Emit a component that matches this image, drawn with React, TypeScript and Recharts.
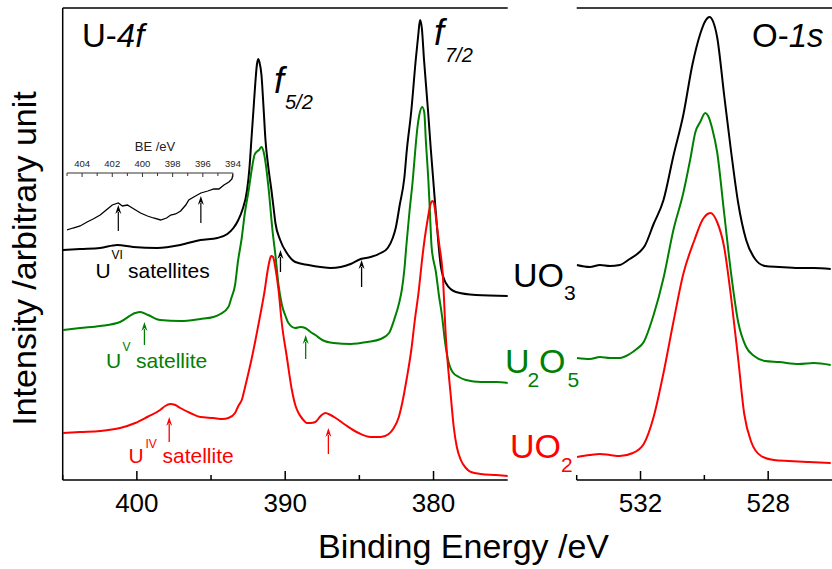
import { LineChart, Line, XAxis, YAxis, ReferenceLine } from "recharts";

const FONT = "'Liberation Sans', Arial, Helvetica, sans-serif";
const GREEN = "#008000";
const RED = "#ff0000";
const W = 832;
const H = 569;

// ---- U-4f panel: binding energy (eV) and stacked intensity (arb. units) ----
const u4fBeUO3 = [
  404.98, 403.83, 402.48, 401.33, 400.25, 398.63, 397.07, 395.72, 394.57, 393.9,
  393.49, 393.16, 392.89, 392.57, 392.41, 392.28, 392.14, 392.01, 391.91, 391.82,
  391.74, 391.6, 391.47, 391.33, 391.13, 390.93, 390.79, 390.66, 390.34, 389.89,
  389.32, 388.43, 387.61, 386.94, 386.26, 385.59, 384.91, 384.24, 383.56, 383.09,
  382.75, 382.55, 382.28, 381.97, 381.8, 381.5, 381.2, 381.03, 380.91, 380.79,
  380.64, 380.37, 380.18, 380.03, 379.76, 379.51, 379.17, 378.49, 377.14, 374.98,
];
const u4fUO3 = [
  230, 231, 232, 235, 233, 232, 235, 240, 242, 246,
  252, 260, 270, 290, 312, 340, 370, 398, 415, 421,
  418, 405, 375, 340, 312, 290, 273, 257, 240, 227,
  218, 215, 213, 212, 213, 216, 221, 223, 227, 232,
  242, 252, 275, 302, 330, 369, 420, 445, 460, 452,
  420, 369, 330, 302, 252, 214, 197, 188, 185, 184,
];

const u4fBeU2O5 = [
  404.98, 403.83, 402.48, 401.13, 400.11, 399.78, 399.24, 398.43, 397.07, 395.72,
  394.84, 394.37, 393.83, 393.63, 393.38, 393.19, 392.93, 392.72, 392.46, 392.24,
  392.07, 391.94, 391.77, 391.6, 391.47, 391.33, 391.11, 390.86, 390.66, 390.45,
  390.22, 389.98, 389.78, 389.32, 388.97, 388.65, 388.29, 387.97, 387.5, 386.74,
  385.59, 384.46, 383.56, 383.0, 382.66, 382.32, 382.14, 381.97, 381.84, 381.63,
  381.4, 381.23, 381.09, 380.96, 380.76, 380.62, 380.52, 380.35, 380.25, 380.13,
  379.84, 379.64, 379.41, 379.24, 379.05, 378.72, 378.29, 377.82, 376.8, 375.79, 374.98,
];
const u4fU2O5 = [
  150, 152, 154, 158, 167, 168, 165, 160, 159, 161,
  163, 166, 173, 182, 195, 218, 242, 267, 290, 312,
  325, 328, 330, 333, 329, 318, 290, 250, 225, 195,
  175, 164, 157, 152, 153, 152, 148, 145, 140, 137,
  136, 138, 141, 147, 160, 177, 190, 210, 233, 267,
  300, 330, 352, 365, 373, 367, 340, 300, 270, 233,
  208, 185, 162, 140, 122, 108, 103, 100, 98, 98, 97,
];

const u4fBeUO2 = [
  404.98, 403.83, 402.48, 401.13, 400.11, 399.3, 398.43, 398.09, 397.75, 397.41,
  397.07, 396.4, 395.72, 394.84, 394.23, 393.83, 393.38, 393.16, 392.93, 392.72,
  392.48, 392.28, 392.03, 391.81, 391.58, 391.4, 391.2, 391.06, 390.95, 390.82,
  390.66, 390.45, 390.23, 389.89, 389.55, 389.3, 389.1, 388.83, 388.54, 388.29,
  387.97, 387.61, 387.3, 386.94, 386.6, 385.93, 385.05, 384.24, 383.56, 383.02,
  382.68, 382.34, 382.07, 381.8, 381.5, 381.26, 380.99, 380.79, 380.59, 380.38,
  380.22, 380.07, 379.95, 379.78, 379.61, 379.39, 379.17, 378.83, 378.63, 378.43,
  378.16, 377.82, 377.48, 376.8, 375.79, 374.98,
];
const u4fUO2 = [
  47, 48, 49, 52, 57, 63, 70, 74, 76, 75,
  72, 67, 63, 62, 61, 62, 67, 74, 80, 92,
  107, 120, 138, 155, 173, 188, 208, 219, 224, 223,
  212, 190, 157, 123, 90, 74, 67, 61, 57, 57,
  58, 64, 67, 65, 62, 55, 47, 43, 43, 46,
  52, 63, 80, 102, 130, 160, 190, 218, 242, 262,
  275, 279, 275, 255, 235, 208, 143, 83, 52, 33,
  20, 12, 8, 6, 5, 4,
];

// satellite arrows: position (eV), tail and tip intensity
const satBeUO3 = [390.32, 384.85];
const satFromUO3 = [208, 193];
const satToUO3 = [230, 220];
const satBeU2O5 = [399.49, 388.62];
const satFromU2O5 = [135, 121];
const satToU2O5 = [158, 145];
const satBeUO2 = [397.82, 387.09];
const satFromUO2 = [38, 26];
const satToUO2 = [63, 52];

// ---- O-1s panel ----
const o1sBeUO3 = [
  534.0, 533.59, 533.27, 532.96, 532.65, 532.34, 532.03, 531.87, 531.59, 531.28,
  530.97, 530.66, 530.37, 530.13, 529.97, 529.84, 529.72, 529.6, 529.38, 529.16,
  528.94, 528.69, 528.41, 528.1, 527.66, 527.04, 526.57, 526.04,
];
const o1sUO3 = [
  215, 213, 215, 214, 215, 221, 228, 234, 256, 280,
  324, 365, 416, 446, 459, 463, 458, 443, 385, 328,
  277, 240, 221, 214, 213, 212, 212, 211,
];
const o1sBeU2O5 = [
  533.99, 533.59, 533.27, 532.96, 532.65, 532.34, 532.12, 531.9, 531.59, 531.28,
  530.97, 530.66, 530.44, 530.28, 530.13, 529.97, 529.88, 529.75, 529.6, 529.38,
  529.16, 528.94, 528.69, 528.44, 528.1, 527.66, 527.04, 526.57, 526.04,
];
const o1sU2O5 = [
  122, 121, 123, 122, 122, 126, 131, 138, 165, 202,
  250, 287, 321, 348, 358, 367, 364, 351, 328, 267,
  206, 158, 133, 124, 119, 118, 116, 117, 115,
];
const o1sBeUO2 = [
  533.99, 533.59, 533.27, 532.96, 532.65, 532.24, 531.9, 531.59, 531.28, 530.97,
  530.66, 530.31, 530.06, 529.81, 529.6, 529.38, 529.16, 528.94, 528.75, 528.53,
  528.22, 527.82, 527.35, 526.73, 526.04,
];
const o1sUO2 = [
  23, 25, 26, 25, 24, 27, 36, 63, 107, 158,
  206, 240, 260, 267, 258, 233, 182, 121, 66, 38,
  24, 20, 19, 18, 17,
];

// ---- inset: UO3 satellite region, magnified ----
const insetBe = [
  405.0, 404.6, 404.13, 403.67, 403.27, 402.8, 402.4, 402.0, 401.6, 401.33,
  401.0, 400.67, 400.13, 399.67, 399.27, 398.8, 398.4, 398.13, 397.8, 397.47,
  397.13, 396.93, 396.6, 396.13, 395.67, 395.27, 394.93, 394.6, 394.27, 394.07, 394.0,
];
const insetUO3 = [
  3, 5, 7, 11, 14, 18, 23, 28, 30, 27,
  28, 25, 20, 17, 15, 13, 15, 18, 19, 22,
  28, 33, 36, 40, 42, 44, 44, 48, 51, 54, 59,
];
const insetArrowBe = [401.6, 396.13];
const insetArrowFrom = [2, 10];
const insetArrowTo = [28, 37];

const u4fTicks = [405, 400, 395, 390, 385, 380];
const u4fMajor = [400, 390, 380];
const o1sTicks = [534, 532, 530, 528];
const o1sMajor = [532, 528];
const insetTicks = [405, 404, 403, 402, 401, 400, 399, 398, 397, 396, 395, 394];

const pair = (be: number[], v: number[]) => be.map((b, i) => ({ be: b, v: v[i] }));

const mainTick = (majors: number[]) => (p: any) => {
  const { x, y, payload } = p;
  const major = majors.includes(payload.value);
  return (
    <g>
      <line x1={x} x2={x} y1={y} y2={y - (major ? 9 : 5)} stroke="#000" strokeWidth={1.5} />
      {major && (
        <text x={x} y={y + 32} textAnchor="middle" fontSize={26} fontFamily={FONT} fill="#000">
          {payload.value}
        </text>
      )}
    </g>
  );
};

const insetTick = (p: any) => {
  const { x, y, payload } = p;
  const major = payload.value % 2 === 0;
  return (
    <g>
      <line x1={x} x2={x} y1={y} y2={y + (major ? 4 : 3)} stroke="#333" strokeWidth={1} />
      {major && payload.value !== 405 && (
        <text x={x} y={y - 6} textAnchor="middle" fontSize={9.5} fontFamily={FONT} fill="#222">
          {payload.value}
        </text>
      )}
    </g>
  );
};

// up-pointing arrow drawn from the segment end points
const arrow = (color: string, w = 1.3, head = 9) => (p: any) => {
  const { x1, y1, x2, y2 } = p;
  return (
    <g>
      <line x1={x1} y1={y1} x2={x2} y2={y2 + head - 2} stroke={color} strokeWidth={w} />
      <polygon
        points={`${x2},${y2} ${x2 - head / 3},${y2 + head} ${x2},${y2 + head - 3} ${x2 + head / 3},${y2 + head}`}
        fill={color}
      />
    </g>
  );
};

const arrows = (be: number[], from: number[], to: number[], color: string, key: string, w?: number, head?: number) =>
  be.map((b, i) => (
    <ReferenceLine
      key={key + i}
      segment={[{ x: b, y: from[i] }, { x: b, y: to[i] }]}
      ifOverflow="visible"
      shape={arrow(color, w, head)}
    />
  ));

const layer: React.CSSProperties = { position: "absolute", left: 0, top: 0 };

const series = (data: any[], color: string, width = 2) => (
  <Line
    data={data}
    dataKey="v"
    type="monotone"
    stroke={color}
    strokeWidth={width}
    dot={false}
    activeDot={false}
    isAnimationActive={false}
  />
);

const Label = ({ x, y, size, color = "#000", italic = false, children }: any) => (
  <text x={x} y={y} fontSize={size} fill={color} fontFamily={FONT} fontStyle={italic ? "italic" : "normal"}>
    {children}
  </text>
);

export default function App() {
  return (
    <div style={{ ...layer, width: W, height: H, background: "#fff" }}>
      {/* U-4f panel */}
      <div style={layer}>
        <LineChart width={W} height={H} margin={{ top: 8, right: 324.3, bottom: 49, left: 62.7 }}>
          <XAxis
            dataKey="be"
            type="number"
            domain={[375, 405]}
            reversed
            allowDataOverflow
            ticks={u4fTicks}
            interval={0}
            height={40}
            tickSize={0}
            tickMargin={0}
            tickLine={false}
            tick={mainTick(u4fMajor)}
            axisLine={{ stroke: "#000", strokeWidth: 1.5 }}
          />
          <YAxis hide type="number" domain={[0, 472]} allowDataOverflow />
          <ReferenceLine y={472} stroke="#000" strokeWidth={1.5} />
          <ReferenceLine x={405} stroke="#000" strokeWidth={1.5} />
          {series(pair(u4fBeUO3, u4fUO3), "#000")}
          {series(pair(u4fBeU2O5, u4fU2O5), GREEN)}
          {series(pair(u4fBeUO2, u4fUO2), RED)}
          {arrows(satBeUO3, satFromUO3, satToUO3, "#000", "a")}
          {arrows(satBeU2O5, satFromU2O5, satToU2O5, GREEN, "b")}
          {arrows(satBeUO2, satFromUO2, satToUO2, RED, "c")}
        </LineChart>
      </div>

      {/* O-1s panel */}
      <div style={layer}>
        <LineChart width={W} height={H} margin={{ top: 8, right: 0, bottom: 49, left: 576.7 }}>
          <XAxis
            dataKey="be"
            type="number"
            domain={[526, 534]}
            reversed
            allowDataOverflow
            ticks={o1sTicks}
            interval={0}
            height={40}
            tickSize={0}
            tickMargin={0}
            tickLine={false}
            tick={mainTick(o1sMajor)}
            axisLine={{ stroke: "#000", strokeWidth: 1.5 }}
          />
          <YAxis hide type="number" domain={[0, 472]} allowDataOverflow />
          <ReferenceLine y={472} stroke="#000" strokeWidth={1.5} />
          {series(pair(o1sBeUO3, o1sUO3), "#000")}
          {series(pair(o1sBeU2O5, o1sU2O5), GREEN)}
          {series(pair(o1sBeUO2, o1sUO2), RED)}
        </LineChart>
      </div>

      {/* inset */}
      <div style={layer}>
        <LineChart width={W} height={H} margin={{ top: 153, right: 599, bottom: 336, left: 67 }}>
          <XAxis
            dataKey="be"
            type="number"
            orientation="top"
            domain={[394, 405]}
            reversed
            allowDataOverflow
            ticks={insetTicks}
            interval={0}
            height={20}
            tickSize={0}
            tickMargin={0}
            tickLine={false}
            tick={insetTick}
            axisLine={{ stroke: "#333", strokeWidth: 1 }}
          />
          <YAxis hide type="number" domain={[0, 60]} allowDataOverflow />
          <Line
            data={pair(insetBe, insetUO3)}
            dataKey="v"
            type="linear"
            stroke="#000"
            strokeWidth={1.3}
            dot={false}
            activeDot={false}
            isAnimationActive={false}
          />
          {arrows(insetArrowBe, insetArrowFrom, insetArrowTo, "#000", "i", 1.2, 9)}
        </LineChart>
      </div>

      {/* text annotations */}
      <svg width={W} height={H} style={{ ...layer, pointerEvents: "none" }}>
        <text
          transform="translate(36,258.5) rotate(-90)"
          textAnchor="middle"
          fontSize={34}
          fontFamily={FONT}
          fill="#000"
        >
          Intensity /arbitrary unit
        </text>
        <text x={463.5} y={558} textAnchor="middle" fontSize={34} fontFamily={FONT} fill="#000">
          Binding Energy /eV
        </text>

        <text x={82} y={47} fontSize={33} fontFamily={FONT} fill="#000">
          U-<tspan fontStyle="italic">4f</tspan>
        </text>
        <text x={752} y={47} fontSize={33} fontFamily={FONT} fill="#000">
          O-<tspan fontStyle="italic">1s</tspan>
        </text>

        <Label x={274} y={93} size={36} italic>f</Label>
        <Label x={285} y={109} size={20} italic>5/2</Label>
        <Label x={434} y={45} size={36} italic>f</Label>
        <Label x={445} y={62} size={20} italic>7/2</Label>

        <text x={155} y={151} textAnchor="middle" fontSize={13} fontFamily={FONT} fill="#222">
          BE /eV
        </text>

        <Label x={95.5} y={278} size={21}>U</Label>
        <Label x={111.5} y={259} size={12}>VI</Label>
        <Label x={128} y={278} size={21}>satellites</Label>

        <Label x={106} y={368} size={21} color={GREEN}>U</Label>
        <Label x={122.5} y={351} size={12} color={GREEN}>V</Label>
        <Label x={136} y={368} size={21} color={GREEN}>satellite</Label>

        <Label x={128.5} y={462.7} size={21} color={RED}>U</Label>
        <Label x={145.5} y={448} size={12} color={RED}>IV</Label>
        <Label x={162.5} y={462.7} size={21} color={RED}>satellite</Label>

        <Label x={513} y={287} size={34}>UO</Label>
        <Label x={564} y={300} size={21}>3</Label>

        <Label x={505} y={373} size={34} color={GREEN}>U</Label>
        <Label x={527.5} y={387} size={21} color={GREEN}>2</Label>
        <Label x={539} y={373} size={34} color={GREEN}>O</Label>
        <Label x={567.5} y={387} size={21} color={GREEN}>5</Label>

        <Label x={510} y={458.3} size={34} color={RED}>UO</Label>
        <Label x={561} y={471.7} size={21} color={RED}>2</Label>
      </svg>
    </div>
  );
}
